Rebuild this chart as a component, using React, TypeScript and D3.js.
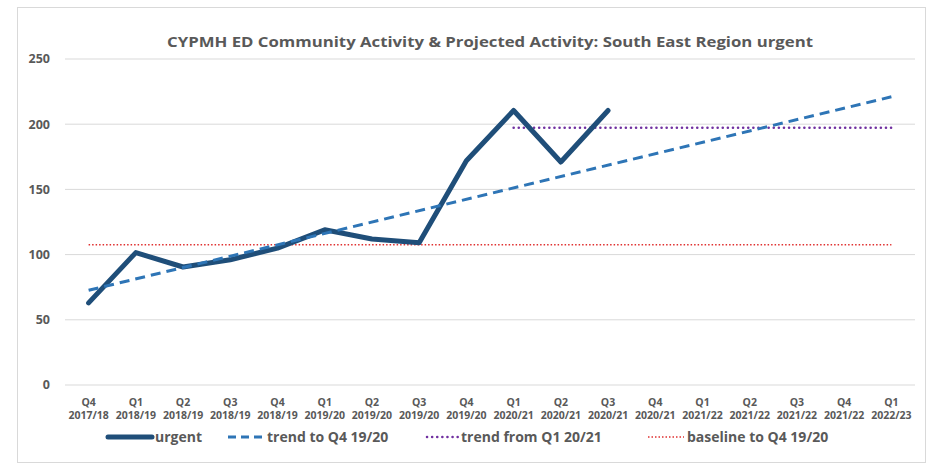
import * as d3 from 'd3';
import * as React from 'react';

const width = 930;
const height = 465;
const margin = { top: 59, right: 15, bottom: 80, left: 65 };

const quarters = ['Q4', 'Q1', 'Q2', 'Q3', 'Q4', 'Q1', 'Q2', 'Q3', 'Q4', 'Q1', 'Q2', 'Q3', 'Q4', 'Q1', 'Q2', 'Q3', 'Q4', 'Q1'];
const years = [
  '2017/18', '2018/19', '2018/19', '2018/19', '2018/19', '2019/20', '2019/20', '2019/20', '2019/20',
  '2020/21', '2020/21', '2020/21', '2020/21', '2021/22', '2021/22', '2021/22', '2021/22', '2022/23',
];
const categories = quarters.map((q, i) => `${q} ${years[i]}`);

// actual activity (only first 12 quarters observed)
const urgent = [63, 101.5, 90.5, 96, 105, 119, 112, 109, 172, 210.5, 171, 210.5];

// linear trend to Q4 19/20, start and end
const trendIdx = [0, 17];
const trendVals = [72.6, 221];

// flat trend from Q1 20/21
const fromIdx = [9, 17];
const fromVals = [197.3, 197.3];

// baseline to Q4 19/20
const baseIdx = [0, 17];
const baseVals = [107.6, 107.6];

const yTicks = [0, 50, 100, 150, 200, 250];

const font = '"Open Sans", Lato, sans-serif';
const grey = '#595959';

export default function App() {
  const x = d3
    .scaleBand<string>()
    .domain(categories)
    .range([margin.left, width - margin.right]);

  const y = d3
    .scaleLinear()
    .domain([0, 250])
    .range([height - margin.bottom, margin.top]);

  const cx = (i: number) => (x(categories[i]) as number) + x.bandwidth() / 2;

  const line = d3
    .line<[number, number]>()
    .x(d => cx(d[0]))
    .y(d => y(d[1]));

  const urgentPath = line(urgent.map((v, i) => [i, v]));
  const trendPath = line(trendIdx.map((i, k) => [i, trendVals[k]]));
  const fromPath = line(fromIdx.map((i, k) => [i, fromVals[k]]));
  const basePath = line(baseIdx.map((i, k) => [i, baseVals[k]]));

  const legendY = 437;
  const legend = [
    { x0: 108, x1: 152, label: 'urgent', stroke: '#1F4E79', w: 5, dash: null, cap: 'round' },
    { x0: 228, x1: 264, label: 'trend to Q4 19/20', stroke: '#2E75B6', w: 3, dash: '8,5', cap: 'butt' },
    { x0: 427, x1: 458, label: 'trend from Q1 20/21', stroke: '#7030A0', w: 2.5, dash: '0.1,5', cap: 'round' },
    { x0: 648, x1: 684, label: 'baseline to Q4 19/20', stroke: '#E03030', w: 1.5, dash: '1.5,2', cap: 'butt' },
  ];

  return (
    <div style={{ position: 'fixed', left: 0, top: 0 }}>
      <svg width={width} height={height} style={{ display: 'block', background: '#fff' }}>
        <rect x={17.5} y={7.5} width={908} height={455} fill="#fff" stroke="#d9d9d9" />

        <text
          x={(margin.left + width - margin.right) / 2}
          y={47}
          textAnchor="middle"
          fontFamily={font}
          fontWeight="bold"
          fontSize={15}
          textLength={646}
          lengthAdjust="spacingAndGlyphs"
          fill={grey}
        >
          CYPMH ED Community Activity &amp; Projected Activity: South East Region urgent
        </text>

        {yTicks.map(t => (
          <g key={t}>
            <line x1={margin.left} x2={width - margin.right} y1={y(t)} y2={y(t)} stroke="#d9d9d9" strokeWidth={1} />
            <text x={50} y={y(t)} dy="0.35em" textAnchor="end" fontFamily={font} fontWeight="bold" fontSize={12.5} fill={grey}>
              {t}
            </text>
          </g>
        ))}

        {categories.map((c, i) => (
          <text key={c} x={cx(i)} textAnchor="middle" fontFamily={font} fontWeight="bold" fontSize={10.5} fill={grey}>
            <tspan x={cx(i)} y={406}>{quarters[i]}</tspan>
            <tspan x={cx(i)} y={419}>{years[i]}</tspan>
          </text>
        ))}

        <path d={basePath ?? ''} fill="none" stroke="#E03030" strokeWidth={1.5} strokeDasharray="1.5,2" />
        <path d={fromPath ?? ''} fill="none" stroke="#7030A0" strokeWidth={2.5} strokeDasharray="0.1,5" strokeLinecap="round" />
        <path d={urgentPath ?? ''} fill="none" stroke="#1F4E79" strokeWidth={5} strokeLinejoin="round" strokeLinecap="round" />
        <path d={trendPath ?? ''} fill="none" stroke="#2E75B6" strokeWidth={3} strokeDasharray="10,6" />

        {legend.map(l => (
          <g key={l.label}>
            <line
              x1={l.x0}
              x2={l.x1}
              y1={legendY}
              y2={legendY}
              stroke={l.stroke}
              strokeWidth={l.w}
              strokeDasharray={l.dash ?? undefined}
              strokeLinecap={l.cap as any}
            />
            <text x={l.x1 + 3} y={legendY} dy="0.35em" fontFamily={font} fontWeight="bold" fontSize={14} fill={grey}>
              {l.label}
            </text>
          </g>
        ))}
      </svg>
    </div>
  );
}
